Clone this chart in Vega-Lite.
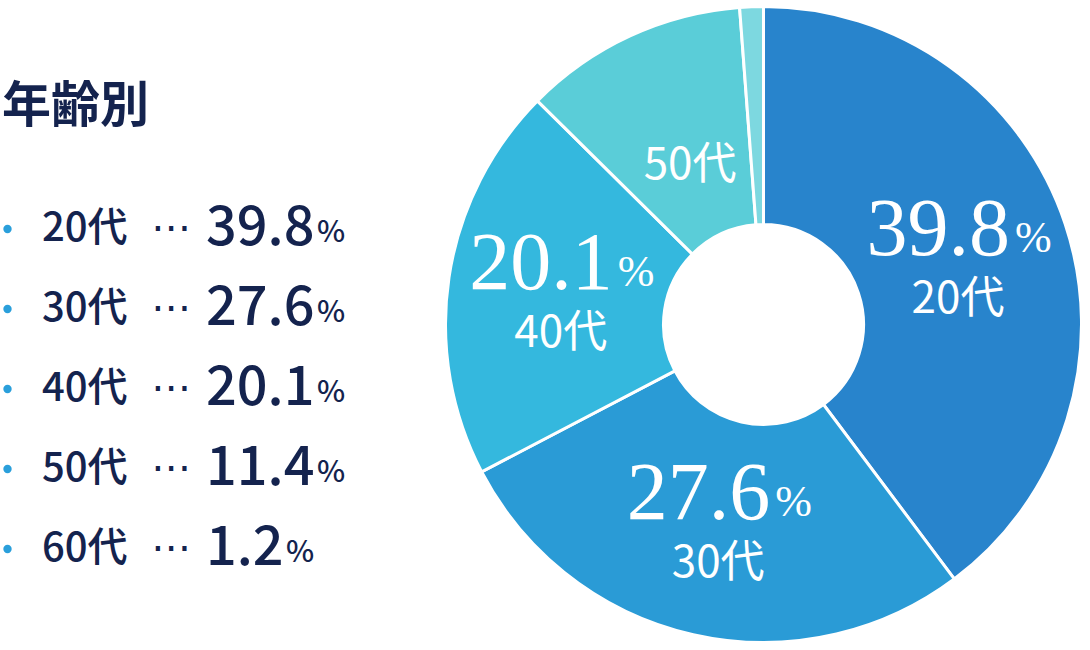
{
  "$schema": "https://vega.github.io/schema/vega-lite/v6.json",
  "padding": 0,
  "spacing": 0,
  "bounds": "flush",
  "background": "white",
  "config": {"view": {"stroke": null}},
  "datasets": {
    "ages": [
      {"age": "20代", "value": 39.8},
      {"age": "30代", "value": 27.6},
      {"age": "40代", "value": 20.1},
      {"age": "50代", "value": 11.4},
      {"age": "60代", "value": 1.2}
    ],
    "heading": [{"label": "年齢別"}]
  },
  "hconcat": [
    {
      "width": 445,
      "height": 647,
      "layer": [
        {
          "data": {"name": "heading"},
          "mark": {"type": "text", "x": 2, "y": 106, "align": "left", "baseline": "middle", "font": "Noto Sans CJK JP", "fontSize": 49, "fontWeight": "bold", "color": "#14234e"},
          "encoding": {"text": {"field": "label"}}
        },
        {
          "data": {"name": "ages"},
          "mark": {"type": "point", "filled": true, "x": 7.5, "size": 70, "color": "#2a9fdb", "opacity": 1},
          "encoding": {
            "y": {"field": "age", "type": "ordinal", "scale": {"type": "point", "padding": 0, "domain": ["20代", "30代", "40代", "50代", "60代"], "range": [228, 548]}, "axis": null}
          }
        },
        {
          "data": {"name": "ages"},
          "mark": {"type": "text", "x": 42, "align": "left", "baseline": "middle", "font": "Noto Sans CJK JP", "fontSize": 40, "fontWeight": 500, "color": "#14234e"},
          "encoding": {
            "y": {"field": "age", "type": "ordinal", "axis": null},
            "text": {"field": "age"}
          }
        },
        {
          "data": {"name": "ages"},
          "mark": {"type": "text", "x": 151, "align": "left", "baseline": "middle", "font": "DejaVu Sans", "fontSize": 40, "color": "#14234e", "text": "⋯"},
          "encoding": {
            "y": {"field": "age", "type": "ordinal", "axis": null}
          }
        },
        {
          "data": {"name": "ages"},
          "mark": {"type": "text", "x": 206, "align": "left", "baseline": "middle", "font": "Noto Sans CJK JP", "fontSize": 54, "fontWeight": 500, "color": "#14234e"},
          "encoding": {
            "y": {"field": "age", "type": "ordinal", "axis": null},
            "text": {"field": "value", "type": "quantitative", "format": ".1f"}
          }
        },
        {
          "data": {"name": "ages"},
          "mark": {"type": "text", "align": "left", "baseline": "middle", "dy": 4, "font": "Noto Sans CJK JP", "fontSize": 30, "fontWeight": 500, "color": "#14234e", "text": "%"},
          "encoding": {
            "y": {"field": "age", "type": "ordinal", "axis": null},
            "x": {"field": "value", "type": "quantitative", "scale": {"type": "linear", "domain": [1.2, 11.4], "range": [286, 317], "clamp": true, "zero": false, "nice": false}, "axis": null}
          }
        }
      ]
    },
    {
      "width": 637,
      "height": 647,
      "data": {"name": "ages"},
      "encoding": {
        "theta": {"field": "value", "type": "quantitative", "stack": true},
        "order": {"field": "age", "type": "ordinal", "sort": "ascending"}
      },
      "layer": [
        {
          "mark": {"type": "arc", "outerRadius": 318, "innerRadius": 100, "stroke": "white", "strokeWidth": 3},
          "encoding": {
            "color": {"field": "age", "type": "nominal", "scale": {"domain": ["20代", "30代", "40代", "50代", "60代"], "range": ["#2884cc", "#2a9bd6", "#34b8de", "#5acdd8", "#7dd8e0"]}, "legend": null}
          }
        },
        {
          "mark": {"type": "text", "radius": 205, "align": "right", "baseline": "middle", "dx": 52, "dy": -30, "font": "Liberation Serif", "fontSize": 82, "color": "white"},
          "encoding": {
            "text": {"field": "value", "type": "quantitative", "format": ".1f"},
            "opacity": {"condition": {"test": "datum.value >= 15", "value": 1}, "value": 0}
          }
        },
        {
          "mark": {"type": "text", "radius": 205, "align": "left", "baseline": "middle", "dx": 57, "dy": -21, "font": "Liberation Serif", "fontSize": 44, "color": "white", "text": "%"},
          "encoding": {
            "opacity": {"condition": {"test": "datum.value >= 15", "value": 1}, "value": 0}
          }
        },
        {
          "mark": {"type": "text", "radius": 205, "align": "center", "baseline": "middle", "dy": 40, "font": "Noto Sans CJK JP", "fontSize": 44, "color": "white"},
          "encoding": {
            "text": {"field": "age"},
            "opacity": {"condition": {"test": "datum.value >= 15", "value": 1}, "value": 0}
          }
        },
        {
          "mark": {"type": "text", "radius": 175, "align": "center", "baseline": "middle", "font": "Noto Sans CJK JP", "fontSize": 44, "color": "white"},
          "encoding": {
            "text": {"field": "age"},
            "opacity": {"condition": {"test": "datum.age === '50代'", "value": 1}, "value": 0}
          }
        }
      ]
    }
  ]
}
